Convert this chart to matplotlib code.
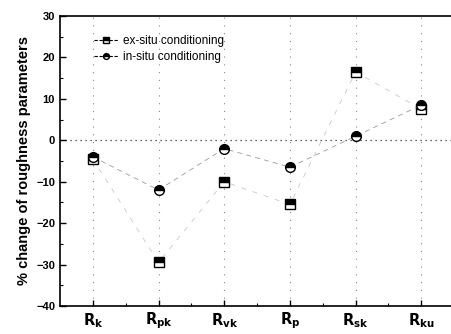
import matplotlib
matplotlib.use('Agg')
import matplotlib.pyplot as plt
from matplotlib.ticker import MultipleLocator

plt.rcParams['font.family'] = ['Liberation Sans', 'DejaVu Sans']

params = ['k', 'pk', 'vk', 'p', 'sk', 'ku']
ex_situ = [-4.5, -29.5, -10, -15.5, 16.5, 7.5]
in_situ = [-4, -12, -2, -6.5, 1, 8.5]

x = list(range(1, len(params) + 1))
labels = [r'$\mathbf{R_{%s}}$' % p for p in params]

fig = plt.figure(figsize=(4.51, 3.34), dpi=100)
ax = fig.add_axes([0.133, 0.084, 0.874, 0.868])

# dotted guides
for xi in x:
    ax.axvline(xi, color='#888888', lw=0.8, ls=(0, (1, 6)), zorder=0)
ax.axhline(0, color='#333333', lw=0.9, ls=(0, (1, 3)), zorder=0)

ax.plot(x, ex_situ, ls=(0, (6, 8)), lw=0.6, color='#c8c8c8',
        marker='s', ms=6.5, mfc='black', mfcalt='white', mec='black', mew=1.0,
        fillstyle='top', label='ex-situ conditioning')
ax.plot(x, in_situ, ls=(0, (6, 5)), lw=0.6, color='#9a9a9a',
        marker='o', ms=7, mfc='black', mfcalt='white', mec='black', mew=1.0,
        fillstyle='top', label='in-situ conditioning')

ax.set_xlim(0.5, 6.5)
ax.set_ylim(-40, 30)
ax.set_xticks(x)
ax.set_xticklabels(labels, fontsize=10.5)
ax.set_xticks([1.5, 2.5, 3.5, 4.5, 5.5], minor=True)
ax.yaxis.set_major_locator(MultipleLocator(10))
ax.yaxis.set_minor_locator(MultipleLocator(5))
ax.tick_params(which='both', direction='in', top=False, right=False)
ax.tick_params(which='major', length=4, width=1)
ax.tick_params(which='minor', length=2, width=0.8)
ax.tick_params(axis='y', labelsize=8)
for t in ax.get_yticklabels():
    t.set_fontweight('bold')
for s in ax.spines.values():
    s.set_linewidth(1.2)

ax.set_ylabel('% change of roughness parameters', fontsize=10.5, fontweight='bold', labelpad=4)

leg = ax.legend(loc='upper left', bbox_to_anchor=(0.06, 0.97), frameon=False, fontsize=8.5,
                handlelength=2.0, handletextpad=0.4, labelspacing=0.3, markerscale=0.6)
for h in leg.legend_handles:
    h.set_color('black')
    h.set_linestyle((0, (3, 1.5)))
    h.set_linewidth(0.8)
    h.set_markeredgecolor('black')
    h.set_markerfacecolor('black')

fig.savefig('out.png', dpi=100)
